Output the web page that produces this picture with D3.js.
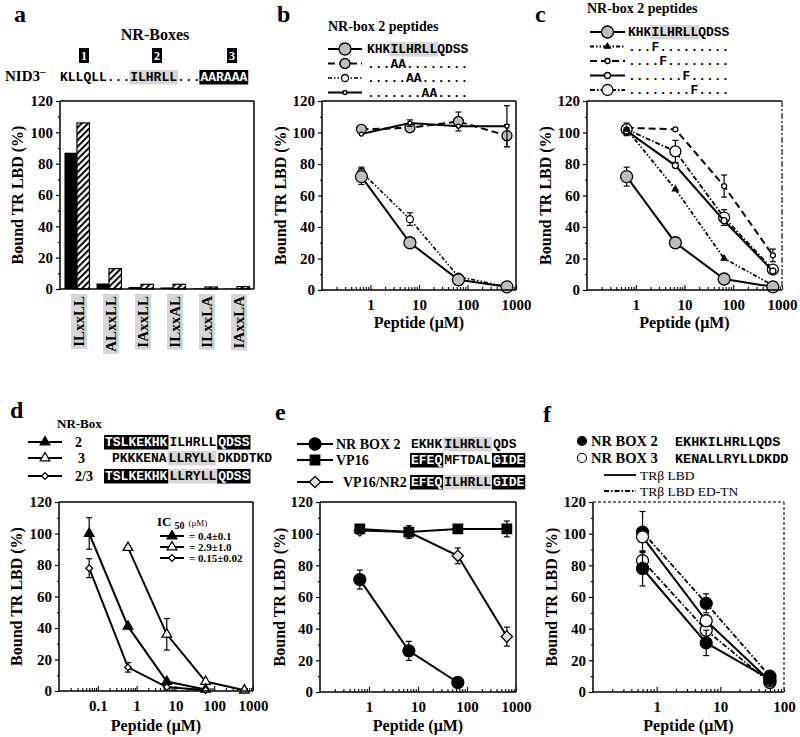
<!DOCTYPE html>
<html>
<head>
<meta charset="utf-8">
<title>NR box peptides</title>
<script src="https://d3js.org/d3.v7.min.js"></script>
<style>
  body { margin: 0; background: #fff; }
</style>
</head>
<body>
<div id="figure"></div>
<script>
'use strict';

// ---------- values ----------

// panel a (bars)
var motifs = ["ILxxLL", "ALxxLL", "IAxxLL", "ILxxAL", "ILxxLA", "IAxxLA"];
var boundSolid = [87, 3.5, 1.3, 1, 0.4, 0.2];
var boundHatched = [106, 13, 3, 3, 1.3, 1.5];

var yTicks = [0, 20, 40, 60, 80, 100, 120];

// peptide concentrations (uM)
var doseTop = [0.65, 6.5, 65, 650];
var doseD = [0.06, 0.6, 6, 60, 600];
var doseF = [0.6, 6, 60];

var logTicksTop = [1, 10, 100, 1000];
var logTicksD = [0.1, 1, 10, 100, 1000];
var logTicksF = [1, 10, 100];

// panel b
var bWild = [72, 30, 6.5, 2];
var bWildErr = [5, 0, 0, 0];
var bAA3 = [102, 103, 107, 98];
var bAA3Err = [0, 0, 6, 7];
var bAA5 = [75, 45, 8.5, 2];
var bAA5Err = [3, 4, 0, 0];
var bAA7 = [99, 106, 104, 104];
var bAA7Err = [0, 2, 0, 13];

// panel c
var cWild = [72, 30, 7, 2];
var cWildErr = [6, 0, 0, 0];
var cF3 = [102, 64, 20, 3];
var cF3Err = [0, 0, 0, 2];
var cF4 = [103, 102, 66, 22];
var cF4Err = [0, 0, 7, 4];
var cF7 = [101, 79, 44, 12];
var cF7Err = [2, 0, 0, 0];
var cF8 = [102, 88, 46, 13];
var cF8Err = [4, 7, 5, 0];

// panel d
var dBox2 = [100, 41, 6, 1, null];
var dBox2Err = [10, 0, 0, 0, 0];
var dBox3 = [null, 91, 36, 6, 0.5];
var dBox3Err = [0, 0, 10, 0, 0];
var dBox23 = [78, 15, 2.5, 0.5, null];
var dBox23Err = [6, 3, 0, 0, 0];
var ic50Labels = ["= 0.4\u00b10.1", "= 2.9\u00b11.0", "= 0.15\u00b10.02"];

// panel e
var eNrBox2 = [71, 26, 6, null];
var eNrBox2Err = [6, 6, 0, 0];
var eVP16 = [103, 101, 103, 103];
var eVP16Err = [2, 0, 2, 5];
var eVP16NR2 = [102, 101, 86, 35];
var eVP16NR2Err = [0, 4, 5, 6];

// panel f
var fBox2 = [78, 31, 8];
var fBox2Err = [11, 8, 0];
var fBox3 = [98, 45, 7];
var fBox3Err = [0, 0, 0];
var fBox2ED = [101, 56, 10];
var fBox2EDErr = [13, 6, 0];
var fBox3ED = [83, 39, 6];
var fBox3EDErr = [6, 0, 0];

// peptide sequences: [text, 0 plain | 1 grey box | 2 black box]
var seqNID3 = [["KLLQLL", 0], ["...", 0], ["ILHRLL", 1], ["...", 0], ["AARAAA", 2]];
var seqB = [
  [["KHK", 0], ["ILHRLL", 1], ["QDSS", 0]],
  [["...AA........", 0]],
  [[".....AA......", 0]],
  [[".......AA....", 0]]
];
var seqC = [
  [["KHK", 0], ["ILHRLL", 1], ["QDSS", 0]],
  [["...F.........", 0]],
  [["....F........", 0]],
  [[".......F.....", 0]],
  [["........F....", 0]]
];
var seqD = [
  [["TSLKEKHK", 2], ["ILHRLL", 0], ["QDSS", 2]],
  [["PKKKENA", 0], ["LLRYLL", 1], ["DKDDTKD", 0]],
  [["TSLKEKHK", 2], ["LLRYLL", 1], ["QDSS", 2]]
];
var namesD = ["2", "3", "2/3"];
var seqE = [
  [["EKHK", 0], ["ILHRLL", 1], ["QDS", 0]],
  [["EFEQ", 2], ["MFTDAL", 0], ["GIDE", 2]],
  [["EFEQ", 2], ["ILHRLL", 1], ["GIDE", 2]]
];
var namesE = ["NR BOX 2", "VP16", "VP16/NR2"];
var namesF = ["NR BOX 2", "NR BOX 3"];
var seqF = ["EKHKILHRLLQDS", "KENALLRYLLDKDD"];
var receptorsF = ["TR\u03b2 LBD", "TR\u03b2 LBD ED-TN"];

// ---------- drawing ----------

var serif = "'Liberation Serif', 'Times New Roman', serif";
var mono = "'Liberation Mono', 'Courier New', monospace";

var svg = d3.select("#figure").append("svg")
    .attr("width", 800).attr("height", 737).style("display", "block");

var pat = svg.append("defs").append("pattern")
    .attr("id", "hatch").attr("patternUnits", "userSpaceOnUse")
    .attr("width", 4.5).attr("height", 4.5).attr("patternTransform", "rotate(45)");
pat.append("rect").attr("width", 4.5).attr("height", 4.5).attr("fill", "#fff");
pat.append("line").attr("x1", 1).attr("y1", 0).attr("x2", 1).attr("y2", 4.5)
    .attr("stroke", "#000").attr("stroke-width", 2);

var styles = {
    greyBig:  {dash: null, lw: 2, shape: "circle", r: 6, fill: "#bdbdbd"},
    greyDash: {dash: "7,4", lw: 2, shape: "circle", r: 5, fill: "#bdbdbd"},
    dddOpen:  {dash: "4,2,1.5,2,1.5,2", lw: 1.6, shape: "circle", r: 3.5, fill: "#fff"},
    solidDot: {dash: null, lw: 2, shape: "circle", r: 2, fill: "#fff"},
    dddTiny:  {dash: "4,2,1.5,2,1.5,2", lw: 1.8, shape: "triangle", area: 14, fill: "#000"},
    dashSmall: {dash: "7,4", lw: 2, shape: "circle", r: 2.5, fill: "#fff"},
    solidSmall: {dash: null, lw: 2, shape: "circle", r: 3, fill: "#fff"},
    ddOpen:   {dash: "5,2,1.5,2", lw: 1.8, shape: "circle", r: 5.5, fill: "#fff"},
    triFill:  {dash: null, lw: 2, shape: "triangle", area: 40, fill: "#000"},
    triOpen:  {dash: null, lw: 2, shape: "triangle", area: 40, fill: "#fff"},
    diaSmall: {dash: null, lw: 2, shape: "rhombus", area: 22, fill: "#fff"},
    dotFill:  {dash: null, lw: 2, shape: "circle", r: 6, fill: "#000"},
    square:   {dash: null, lw: 2, shape: "square", area: 90, fill: "#000"},
    diaGrey:  {dash: null, lw: 2, shape: "rhombus", area: 64, fill: "#e0e0e0"},
    dotOpen:  {dash: null, lw: 2, shape: "circle", r: 6, fill: "#fff"},
    ddFill:   {dash: "5,2,1.5,2", lw: 1.8, shape: "circle", r: 6, fill: "#000"},
    ddOpenF:  {dash: "5,2,1.5,2", lw: 1.8, shape: "circle", r: 6, fill: "#fff"}
};

var symbolTypes = {triangle: d3.symbolTriangle, square: d3.symbolSquare, rhombus: d3.symbolSquare};

var txt = function (g, x, y, s, size, weight, family) {
    return g.append("text").attr("x", x).attr("y", y)
        .style("font-family", family || serif)
        .style("font-weight", weight || "bold")
        .style("font-size", size + "px")
        .text(s);
};

var drawSeq = function (g, x, y, parts, size, gap) {
    var cx = x;
    parts.forEach(function (p) {
        var t = txt(g, cx, y, p[0], size, "bold", mono);
        var w = t.node().getComputedTextLength();
        if (p[1] > 0) {
            g.insert("rect", function () { return t.node(); })
                .attr("x", cx - 1).attr("y", y - size * 0.85)
                .attr("width", w + 2).attr("height", size * 1.12)
                .attr("fill", p[1] === 2 ? "#000" : "#d6d6d6");
            if (p[1] === 2) { t.attr("fill", "#fff"); }
        }
        cx += w + (gap || 0);
    });
};

var marker = function (g, s, cx, cy) {
    if (s.shape === "circle") {
        g.append("circle").attr("cx", cx).attr("cy", cy).attr("r", s.r)
            .attr("fill", s.fill).attr("stroke", "#000").attr("stroke-width", 1.3);
    } else {
        g.append("path")
            .attr("d", d3.symbol().type(symbolTypes[s.shape]).size(s.area)())
            .attr("transform", "translate(" + cx + "," + cy + ")" +
                (s.shape === "rhombus" ? " rotate(45)" : ""))
            .attr("fill", s.fill).attr("stroke", "#000").attr("stroke-width", 1.3);
    }
};

var legendLine = function (g, x1, x2, y, s) {
    g.append("line").attr("x1", x1).attr("x2", x2).attr("y1", y).attr("y2", y)
        .attr("stroke", "#000").attr("stroke-width", s.lw)
        .attr("stroke-dasharray", s.dash);
    marker(g, s, (x1 + x2) / 2, y);
};

var yAxis = function (g, fr) {
    var y = d3.scaleLinear().domain([0, 120]).range([fr.y1, fr.y0]);
    var major = g.append("g").attr("transform", "translate(" + fr.x0 + ",0)")
        .call(d3.axisLeft(y).tickValues(yTicks).tickSize(4).tickPadding(3));
    var minor = g.append("g").attr("transform", "translate(" + fr.x0 + ",0)")
        .call(d3.axisLeft(y).tickValues(d3.range(10, 120, 20)).tickSize(2).tickFormat(""));
    [major, minor].forEach(function (a) {
        a.select(".domain").remove();
        a.selectAll("line").attr("stroke-width", 1.2);
    });
    major.selectAll("text").style("font-family", serif)
        .style("font-weight", "bold").style("font-size", "15px");
    return y;
};

var xAxis = function (g, fr, domain, ticks) {
    var x = d3.scaleLog().domain(domain).range([fr.x0, fr.x1]);
    var minorVals = x.ticks().filter(function (d) {
        var l = Math.log10(d);
        return Math.abs(l - Math.round(l)) > 1e-6;
    });
    var major = g.append("g").attr("transform", "translate(0," + fr.y1 + ")")
        .call(d3.axisBottom(x).tickValues(ticks).tickFormat(d3.format("~g"))
            .tickSize(-5).tickPadding(9));
    var minor = g.append("g").attr("transform", "translate(0," + fr.y1 + ")")
        .call(d3.axisBottom(x).tickValues(minorVals).tickSize(-3).tickFormat(""));
    [major, minor].forEach(function (a) {
        a.select(".domain").remove();
        a.selectAll("line").attr("stroke-width", 1.1);
    });
    major.selectAll("text").style("font-family", serif)
        .style("font-weight", "bold").style("font-size", "15px");
    return x;
};

var frame = function (g, fr, dashTop, dashRight) {
    var sides = [
        [fr.x0, fr.y1, fr.x1, fr.y1, null],
        [fr.x0, fr.y0, fr.x0, fr.y1, null],
        [fr.x0, fr.y0, fr.x1, fr.y0, dashTop],
        [fr.x1, fr.y0, fr.x1, fr.y1, dashRight]
    ];
    sides.forEach(function (s) {
        g.append("line").attr("x1", s[0]).attr("y1", s[1]).attr("x2", s[2]).attr("y2", s[3])
            .attr("stroke", s[4] ? "#444" : "#000").attr("stroke-width", 1.5)
            .attr("stroke-dasharray", s[4]);
    });
};

var titles = function (g, fr, yCx, xBase) {
    g.append("text")
        .attr("transform", "translate(" + yCx + "," + ((fr.y0 + fr.y1) / 2) + ") rotate(-90)")
        .attr("text-anchor", "middle").attr("dy", "0.35em")
        .style("font-family", serif).style("font-weight", "bold").style("font-size", "16px")
        .text("Bound TR LBD (%)");
    if (xBase) {
        txt(g, (fr.x0 + fr.x1) / 2, xBase, "Peptide (\u03bcM)", 16).attr("text-anchor", "middle");
    }
};

var plotSeries = function (g, x, y, dose, s) {
    var pts = dose.map(function (d, i) {
        return {x: d, v: s.values[i], e: s.err ? s.err[i] : 0};
    }).filter(function (p) { return p.v !== null && p.v !== undefined; });
    var line = d3.line().x(function (p) { return x(p.x); }).y(function (p) { return y(p.v); });
    g.append("path").datum(pts).attr("d", line).attr("fill", "none")
        .attr("stroke", "#000").attr("stroke-width", s.style.lw)
        .attr("stroke-dasharray", s.style.dash);
    pts.filter(function (p) { return p.e > 0; }).forEach(function (p) {
        var cx = x(p.x), top = y(p.v + p.e), bot = y(Math.max(0, p.v - p.e));
        g.append("line").attr("x1", cx).attr("x2", cx).attr("y1", top).attr("y2", bot)
            .attr("stroke", "#000").attr("stroke-width", 1.2);
        [top, bot].forEach(function (yy) {
            g.append("line").attr("x1", cx - 3).attr("x2", cx + 3).attr("y1", yy).attr("y2", yy)
                .attr("stroke", "#000").attr("stroke-width", 1.2);
        });
    });
    pts.forEach(function (p) { marker(g, s.style, x(p.x), y(p.v)); });
};

var drawLinePanel = function (p) {
    var g = svg.append("g");
    var y = yAxis(g, p.frame);
    var x = xAxis(g, p.frame, p.domain, p.ticks);
    p.series.forEach(function (s) { plotSeries(g, x, y, p.dose, s); });
    frame(g, p.frame, p.dashTop, p.dashRight);
    titles(g, p.frame, p.yTitleX, p.xTitleY);
    return g;
};

// ---- panel a ----
var drawBars = function () {
    var fr = {x0: 60, x1: 254, y0: 101, y1: 289};
    var g = svg.append("g");
    var y = yAxis(g, fr);
    var xb = d3.scaleBand().domain(motifs).range([fr.x0, fr.x1])
        .paddingInner(0.22).paddingOuter(0.14);
    var half = xb.bandwidth() / 2;

    g.selectAll(".solid").data(motifs).enter().append("rect")
        .attr("x", function (d) { return xb(d); })
        .attr("y", function (d, i) { return y(boundSolid[i]); })
        .attr("width", half)
        .attr("height", function (d, i) { return y(0) - y(boundSolid[i]); })
        .attr("fill", "#000");
    g.selectAll(".hatched").data(motifs).enter().append("rect")
        .attr("x", function (d) { return xb(d) + half; })
        .attr("y", function (d, i) { return y(boundHatched[i]); })
        .attr("width", half)
        .attr("height", function (d, i) { return y(0) - y(boundHatched[i]); })
        .attr("fill", "url(#hatch)").attr("stroke", "#000").attr("stroke-width", 1.2);
    frame(g, fr);
    titles(g, fr, 17, null);

    motifs.forEach(function (m) {
        var lg = g.append("g")
            .attr("transform", "translate(" + (xb(m) + half + 2) + "," + (fr.y1 + 7) + ") rotate(-90)");
        var t = lg.append("text").attr("x", 0).attr("y", 5).attr("text-anchor", "end")
            .style("font-family", serif).style("font-weight", "bold").style("font-size", "15px")
            .text(m);
        var w = t.node().getComputedTextLength();
        lg.insert("rect", function () { return t.node(); })
            .attr("x", -w - 2).attr("y", -8).attr("width", w + 4).attr("height", 16)
            .attr("fill", "#d6d6d6");
    });

    // NR box header
    txt(g, 155, 40, "NR-Boxes", 16).attr("text-anchor", "middle");
    [["1", 84], ["2", 157], ["3", 232]].forEach(function (b) {
        g.append("rect").attr("x", b[1] - 5).attr("y", 48).attr("width", 10).attr("height", 15).attr("fill", "#000");
        txt(g, b[1], 60, b[0], 12).attr("text-anchor", "middle").attr("fill", "#fff");
    });
    var nid = txt(g, 5, 81, "NID3", 15);
    nid.append("tspan").attr("dy", -6).style("font-size", "11px").text("\u2013");
    drawSeq(g, 60, 81, seqNID3, 13, 0);
};

drawBars();

// ---- panel b ----
var gb = drawLinePanel({
    frame: {x0: 322, x1: 516, y0: 101, y1: 290}, domain: [0.1, 1000], ticks: logTicksTop,
    dose: doseTop, yTitleX: 280, xTitleY: 328,
    series: [
        {values: bAA3, err: bAA3Err, style: styles.greyDash},
        {values: bAA7, err: bAA7Err, style: styles.solidDot},
        {values: bAA5, err: bAA5Err, style: styles.dddOpen},
        {values: bWild, err: bWildErr, style: styles.greyBig}
    ]
});
txt(gb, 328, 31, "NR-box 2 peptides", 14);
[styles.greyBig, styles.greyDash, styles.dddOpen, styles.solidDot].forEach(function (s, i) {
    var yy = 49 + i * 14.5;
    legendLine(gb, 328, 362, yy, s);
    drawSeq(gb, 367, yy + 4, seqB[i], 13, 0);
});

// ---- panel c ----
var gc = drawLinePanel({
    frame: {x0: 587, x1: 782, y0: 101, y1: 290}, domain: [0.1, 1000], ticks: logTicksTop,
    dose: doseTop, yTitleX: 545, xTitleY: 328, dashRight: "6,2,2,2",
    series: [
        {values: cF4, err: cF4Err, style: styles.dashSmall},
        {values: cF8, err: cF8Err, style: styles.ddOpen},
        {values: cF7, err: cF7Err, style: styles.solidSmall},
        {values: cF3, err: cF3Err, style: styles.dddTiny},
        {values: cWild, err: cWildErr, style: styles.greyBig}
    ]
});
txt(gc, 587, 13, "NR-box 2 peptides", 14);
[styles.greyBig, styles.dddTiny, styles.dashSmall, styles.solidSmall, styles.ddOpen].forEach(function (s, i) {
    var yy = 32 + i * 14.5;
    legendLine(gc, 590, 625, yy, s);
    drawSeq(gc, 628, yy + 4, seqC[i], 13, 0);
});

// ---- panel d ----
var stylesD = [styles.triFill, styles.triOpen, styles.diaSmall];
var gd = drawLinePanel({
    frame: {x0: 59, x1: 253, y0: 502, y1: 691}, domain: [0.01, 1000], ticks: logTicksD,
    dose: doseD, yTitleX: 16, xTitleY: 731,
    series: [
        {values: dBox3, err: dBox3Err, style: stylesD[1]},
        {values: dBox2, err: dBox2Err, style: stylesD[0]},
        {values: dBox23, err: dBox23Err, style: stylesD[2]}
    ]
});
txt(gd, 57, 428, "NR-Box", 13);
[442, 458, 476].forEach(function (yy, i) {
    legendLine(gd, 28, 62, yy, stylesD[i]);
    txt(gd, i === 1 ? 78 : 75, yy + 5, namesD[i], 14);
    drawSeq(gd, i === 1 ? 112 : 105, yy + 4, seqD[i], 13, 2);
});
var ic = txt(gd, 157, 526, "IC", 13);
ic.append("tspan").attr("dy", 3).attr("dx", 3).style("font-size", "10px").text("50");
ic.append("tspan").attr("dy", -3).attr("dx", 4).style("font-size", "9px").style("font-weight", "normal").text("(\u03bcM)");
[536, 547, 558].forEach(function (yy, i) {
    legendLine(gd, 160, 184, yy, stylesD[i]);
    txt(gd, 189, yy + 4, ic50Labels[i], 11);
});

// ---- panel e ----
var stylesE = [styles.dotFill, styles.square, styles.diaGrey];
var ge = drawLinePanel({
    frame: {x0: 320, x1: 516, y0: 502, y1: 692}, domain: [0.1, 1000], ticks: logTicksTop,
    dose: doseTop, yTitleX: 279, xTitleY: 731,
    series: [
        {values: eVP16NR2, err: eVP16NR2Err, style: stylesE[2]},
        {values: eVP16, err: eVP16Err, style: stylesE[1]},
        {values: eNrBox2, err: eNrBox2Err, style: stylesE[0]}
    ]
});
[444, 460, 482].forEach(function (yy, i) {
    legendLine(ge, 297, 333, yy, stylesE[i]);
    txt(ge, i === 2 ? 343 : 336, yy + 5, namesE[i], 14);
    drawSeq(ge, 411, yy + 4, seqE[i], 13, 2);
});

// ---- panel f ----
var gf = drawLinePanel({
    frame: {x0: 593, x1: 784, y0: 502, y1: 692}, domain: [0.1, 100], ticks: logTicksF,
    dose: doseF, yTitleX: 551, xTitleY: 731, dashTop: "3,2", dashRight: "3,2",
    series: [
        {values: fBox2ED, err: fBox2EDErr, style: styles.ddFill},
        {values: fBox3ED, err: fBox3EDErr, style: styles.ddOpenF},
        {values: fBox3, err: fBox3Err, style: styles.dotOpen},
        {values: fBox2, err: fBox2Err, style: styles.dotFill}
    ]
});
[441, 458].forEach(function (yy, i) {
    gf.append("circle").attr("cx", 582).attr("cy", yy).attr("r", 4.5)
        .attr("fill", i === 0 ? "#000" : "#fff").attr("stroke", "#000").attr("stroke-width", 1.2);
    txt(gf, 591, yy + 5, namesF[i], 14.5);
    txt(gf, 675, yy + 5, seqF[i], 13.5, "bold", mono);
});
[[475, styles.dotFill.dash], [491, styles.ddFill.dash]].forEach(function (r, i) {
    gf.append("line").attr("x1", 604).attr("x2", 636).attr("y1", r[0]).attr("y2", r[0])
        .attr("stroke", "#000").attr("stroke-width", 1.8).attr("stroke-dasharray", r[1]);
    txt(gf, 640, r[0] + 4.5, receptorsF[i], 13.5, "normal");
});

// panel letters
[["a", 14, 22], ["b", 277, 22], ["c", 535, 22], ["d", 10, 418], ["e", 275, 420], ["f", 543, 422]]
    .forEach(function (l) { txt(svg, l[1], l[2], l[0], 24); });
</script>
</body>
</html>
